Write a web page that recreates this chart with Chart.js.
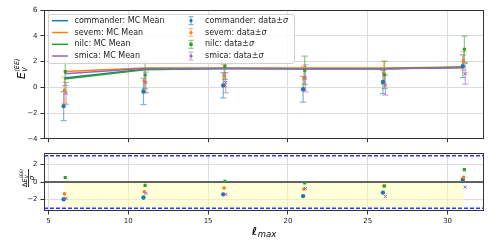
<!DOCTYPE html>
<html>
<head>
<meta charset="utf-8">
<script src="https://cdn.jsdelivr.net/npm/chart.js@4.4.1/dist/chart.umd.min.js"></script>
<style>
  html, body { margin: 0; padding: 0; background: #fff; }
  #wrap { position: relative; width: 491px; height: 245px; }
  #top  { position: absolute; left: 0; top: 0; }
  #bot  { position: absolute; left: 0; top: 146px; }
</style>
</head>
<body>
<div id="wrap">
  <canvas id="top" width="491" height="146"></canvas>
  <canvas id="bot" width="491" height="99"></canvas>
</div>
<script>
// ---- datos ----
const ELLS    = [6, 11, 16, 21, 26, 31];
const NAMES   = ["commander", "sevem", "nilc", "smica"];
const COLORS  = ["#1f77b4", "#ff7f0e", "#2ca02c", "#9467bd"];
const X_SHIFT = [-0.05, 0, 0.05, 0.1];

// MC Mean (líneas)
const mcCommander = [0.72, 1.40, 1.45, 1.44, 1.44, 1.55];
const mcSevem     = [1.22, 1.50, 1.50, 1.49, 1.49, 1.58];
const mcNilc      = [0.65, 1.36, 1.45, 1.44, 1.44, 1.55];
const mcSmica     = [1.05, 1.45, 1.45, 1.44, 1.44, 1.52];

// data ± sigma
const dataCommander = [-1.46, -0.32, 0.15, -0.15, 0.41, 1.64];
const errCommander  = [ 1.13,  1.02, 0.97,  1.00, 0.90, 0.88];
const dataSevem     = [-0.22,  0.48, 0.90,  0.70, 1.10, 2.05];
const errSevem      = [ 1.02,  0.92, 0.88,  0.92, 0.90, 0.72];
const dataNilc      = [ 1.23,  0.95, 1.62,  1.32, 0.97, 2.95];
const errNilc       = [ 1.10,  1.05, 1.00,  1.10, 1.07, 1.02];
const dataSmica     = [-0.47,  0.38, 0.36,  0.70, 0.17, 1.05];
const errSmica      = [ 0.85,  0.80, 0.78,  1.05, 0.78, 0.80];

// residuos normalizados (panel inferior)
const resCommander = [-1.95, -1.75, -1.40, -1.60, -1.20, 0.27];
const resSevem     = [-1.35, -1.10, -0.67, -0.80, -0.45, 0.56];
const resNilc      = [ 0.53, -0.37,  0.08, -0.10, -0.45, 1.43];
const resSmica     = [-1.85, -1.30, -1.40, -0.73, -1.64, -0.58];

// ejes
const X_TICKS     = [5, 10, 15, 20, 25, 30];
const Y_TICKS_TOP = [-4, -2, 0, 2, 4, 6];
const Y_TICKS_BOT = [-2, 0, 2];

const MC   = [mcCommander, mcSevem, mcNilc, mcSmica];
const DATA = [dataCommander, dataSevem, dataNilc, dataSmica];
const ERR  = [errCommander, errSevem, errNilc, errSmica];
const RES  = [resCommander, resSevem, resNilc, resSmica];
const MARKERS = ["circle", "circle", "rect", "crossRot"];
const MSIZE   = [2.2, 1.8, 2.2, 2.2];

const FONT = "'DejaVu Sans', sans-serif";
const GRID = "#dcdcdc";
const SPINE = "#333";

const fmt = v => (v < 0 ? "\u2212" + Math.abs(v) : String(v));

function xScaleCfg(showLabels) {
  return {
    type: "linear", min: 4.72, max: 32.28,
    afterBuildTicks: s => { s.ticks = X_TICKS.map(v => ({ value: v })); },
    grid: { color: GRID, tickColor: SPINE, tickLength: 3.5 },
    border: { display: false },
    ticks: { display: showLabels, padding: 2, color: "#222", font: { family: FONT, size: 7 }, callback: fmt },
    afterFit: s => { s.height = showLabels ? 34 : 6; }
  };
}
function yScaleCfg(min, max, ticks) {
  return {
    min, max,
    afterBuildTicks: s => { s.ticks = ticks.map(v => ({ value: v })); },
    grid: { color: GRID, tickColor: SPINE, tickLength: 3.5 },
    border: { display: false },
    ticks: { padding: 3, color: "#222", font: { family: FONT, size: 7 }, callback: fmt },
    afterFit: s => { s.width = 44; }
  };
}

// marco de los ejes
const framePlugin = {
  id: "frame",
  beforeDatasetsDraw(chart) {
    const { ctx, chartArea: a } = chart;
    ctx.save();
    ctx.strokeStyle = SPINE;
    ctx.lineWidth = 1;
    ctx.strokeRect(Math.round(a.left) + 0.5, Math.round(a.top) + 0.5,
                   Math.round(a.right - a.left) - 1, Math.round(a.bottom - a.top) - 1);
    ctx.restore();
  }
};

// barras de error
const errorBarPlugin = {
  id: "errorBars",
  beforeDatasetsDraw(chart) {
    const { ctx, scales: { x, y } } = chart;
    ctx.save();
    ctx.lineWidth = 1.2;
    ctx.globalAlpha = 0.55;
    chart.data.datasets.forEach(ds => {
      if (!ds.errors) return;
      ctx.strokeStyle = ds.borderColor;
      ds.data.forEach((p, j) => {
        const px = x.getPixelForValue(p.x);
        const y1 = y.getPixelForValue(p.y + ds.errors[j]);
        const y2 = y.getPixelForValue(p.y - ds.errors[j]);
        ctx.beginPath();
        ctx.moveTo(px, y1); ctx.lineTo(px, y2);
        ctx.moveTo(px - 3, y1); ctx.lineTo(px + 3, y1);
        ctx.moveTo(px - 3, y2); ctx.lineTo(px + 3, y2);
        ctx.stroke();
      });
    });
    ctx.restore();
  }
};

// leyenda en dos columnas
const legendPlugin = {
  id: "legendBox",
  afterDatasetsDraw(chart) {
    const ctx = chart.ctx;
    ctx.save();
    ctx.fillStyle = "rgba(255,255,255,0.85)";
    ctx.strokeStyle = "#d0d0d0";
    ctx.lineWidth = 1;
    ctx.beginPath();
    ctx.roundRect(48.5, 14.5, 246, 49, 2);
    ctx.fill(); ctx.stroke();

    const rows = [20.7, 32.5, 44.3, 56];
    ctx.font = `8px ${FONT}`;
    ctx.textBaseline = "middle";
    ctx.fillStyle = "#222";
    NAMES.forEach((n, i) => {
      const ry = rows[i];
      // línea MC Mean
      ctx.strokeStyle = COLORS[i];
      ctx.lineWidth = 1.5;
      ctx.beginPath(); ctx.moveTo(52, ry); ctx.lineTo(68, ry); ctx.stroke();
      ctx.fillStyle = "#222";
      ctx.font = `8px ${FONT}`;
      ctx.fillText(n + ": MC Mean", 74.5, ry);

      // barra de error
      ctx.save();
      ctx.globalAlpha = 0.55;
      ctx.lineWidth = 1.2;
      ctx.beginPath();
      ctx.moveTo(191, ry - 4); ctx.lineTo(191, ry + 4);
      ctx.moveTo(188.5, ry - 4); ctx.lineTo(193.5, ry - 4);
      ctx.moveTo(188.5, ry + 4); ctx.lineTo(193.5, ry + 4);
      ctx.stroke();
      ctx.restore();
      ctx.fillStyle = COLORS[i];
      ctx.beginPath();
      if (MARKERS[i] === "rect") ctx.rect(189.3, ry - 1.7, 3.4, 3.4);
      else ctx.arc(191, ry, 1.6, 0, Math.PI * 2);
      ctx.fill();

      ctx.fillStyle = "#222";
      ctx.font = `8px ${FONT}`;
      const t = n + ": data\u00b1";
      ctx.fillText(t, 205, ry);
      const w = ctx.measureText(t).width;
      ctx.font = `italic 8px ${FONT}`;
      ctx.fillText("\u03c3", 205 + w, ry);
    });
    ctx.restore();
  }
};

// título eje y superior: E_V^{(EE)}
const topTitlePlugin = {
  id: "topTitle",
  afterDraw(chart) {
    const ctx = chart.ctx;
    ctx.save();
    ctx.translate(24.5, 79);
    ctx.rotate(-Math.PI / 2);
    ctx.fillStyle = "#000";
    ctx.textAlign = "left";
    ctx.textBaseline = "alphabetic";
    ctx.font = `italic 11px ${FONT}`;
    ctx.fillText("E", 0, 0);
    const w = ctx.measureText("E").width;
    ctx.font = `italic 6.5px ${FONT}`;
    ctx.fillText("V", w + 0.3, 2.5);
    ctx.fillText("(EE)", w + 0.3, -5.5);
    ctx.restore();
  }
};

// panel inferior: banda, líneas de referencia y títulos
const bottomDecorPlugin = {
  id: "bottomDecor",
  beforeDatasetsDraw(chart) {
    const { ctx, chartArea: a, scales: { x, y } } = chart;
    ctx.save();
    ctx.fillStyle = "rgba(255,255,170,0.45)";
    const bx1 = x.getPixelForValue(ELLS[0]), bx2 = x.getPixelForValue(ELLS[ELLS.length - 1]);
    const by1 = y.getPixelForValue(0), by2 = y.getPixelForValue(-3);
    ctx.fillRect(bx1, by1, bx2 - bx1, by2 - by1);

    ctx.strokeStyle = "#3333ff";
    ctx.lineWidth = 1.5;
    ctx.setLineDash([4, 2]);
    [3, -3].forEach(v => {
      const py = y.getPixelForValue(v);
      ctx.beginPath(); ctx.moveTo(a.left, py); ctx.lineTo(a.right, py); ctx.stroke();
    });
    ctx.setLineDash([]);
    ctx.strokeStyle = "#333";
    ctx.lineWidth = 1.5;
    const p0 = y.getPixelForValue(0);
    ctx.beginPath(); ctx.moveTo(a.left, p0); ctx.lineTo(a.right, p0); ctx.stroke();
    ctx.restore();
  },
  afterDraw(chart) {
    const ctx = chart.ctx;
    ctx.save();
    ctx.fillStyle = "#000";
    ctx.textBaseline = "alphabetic";

    // eje x: ℓ_max
    ctx.textAlign = "left";
    ctx.font = `bold italic 11px ${FONT}`;
    ctx.fillText("\u2113", 252, 89);
    const wl = ctx.measureText("\u2113").width;
    ctx.font = `italic 8.5px ${FONT}`;
    ctx.fillText("max", 252 + wl + 0.5, 91);

    // eje y: ΔE_V^{(EE)} / σ
    ctx.translate(26.5, 32);
    ctx.rotate(-Math.PI / 2);
    ctx.font = `6.5px ${FONT}`;
    const wd = ctx.measureText("\u0394").width;
    ctx.font = `italic 6.5px ${FONT}`;
    const we = ctx.measureText("E").width;
    ctx.font = `italic 4.5px ${FONT}`;
    const ws = ctx.measureText("(EE)").width;
    const W = wd + we + ws + 0.3;
    let cx = -W / 2;
    ctx.font = `6.5px ${FONT}`;
    ctx.fillText("\u0394", cx, 0); cx += wd;
    ctx.font = `italic 6.5px ${FONT}`;
    ctx.fillText("E", cx, 0); cx += we + 0.3;
    ctx.font = `italic 4.5px ${FONT}`;
    ctx.fillText("V", cx, 1.8);
    ctx.fillText("(EE)", cx, -4);
    ctx.strokeStyle = "#000";
    ctx.lineWidth = 0.8;
    ctx.beginPath(); ctx.moveTo(-W / 2, 2); ctx.lineTo(W / 2, 2); ctx.stroke();
    ctx.textAlign = "center";
    ctx.font = `italic 7px ${FONT}`;
    ctx.fillText("\u03c3", 0, 7.5);
    ctx.restore();
  }
};

// ---- gráfico superior ----
const topDatasets = [];
NAMES.forEach((n, i) => {
  topDatasets.push({
    label: n + ": MC Mean",
    data: ELLS.map((l, j) => ({ x: l, y: MC[i][j] })),
    showLine: true,
    borderColor: COLORS[i],
    backgroundColor: COLORS[i],
    borderWidth: 1.5,
    pointRadius: 0,
    order: 20 - i
  });
});
NAMES.forEach((n, i) => {
  topDatasets.push({
    label: n + ": data\u00b1\u03c3",
    data: ELLS.map((l, j) => ({ x: l + X_SHIFT[i], y: DATA[i][j] })),
    errors: ERR[i],
    showLine: false,
    pointStyle: MARKERS[i],
    pointRadius: MSIZE[i],
    borderWidth: MARKERS[i] === "crossRot" ? 1 : 0,
    borderColor: COLORS[i],
    backgroundColor: COLORS[i],
    order: 10 - i
  });
});

new Chart(document.getElementById("top"), {
  type: "scatter",
  data: { datasets: topDatasets },
  options: {
    responsive: false,
    animation: false,
    layout: { padding: { left: 0, right: 7, top: 10, bottom: 0 } },
    plugins: { legend: { display: false }, tooltip: { enabled: false } },
    scales: {
      x: xScaleCfg(false),
      y: yScaleCfg(-4, 6, Y_TICKS_TOP)
    }
  },
  plugins: [framePlugin, errorBarPlugin, legendPlugin, topTitlePlugin]
});

// ---- gráfico inferior ----
const botDatasets = NAMES.map((n, i) => ({
  label: n,
  data: ELLS.map((l, j) => ({ x: l + X_SHIFT[i], y: RES[i][j] })),
  showLine: false,
  pointStyle: MARKERS[i],
  pointRadius: MSIZE[i],
  borderWidth: MARKERS[i] === "crossRot" ? 1 : 0,
  borderColor: COLORS[i],
  backgroundColor: COLORS[i],
  order: 10 - i
}));

new Chart(document.getElementById("bot"), {
  type: "scatter",
  data: { datasets: botDatasets },
  options: {
    responsive: false,
    animation: false,
    layout: { padding: { left: 0, right: 7, top: 7, bottom: 0 } },
    plugins: { legend: { display: false }, tooltip: { enabled: false } },
    scales: {
      x: xScaleCfg(true),
      y: yScaleCfg(-3.3, 3.3, Y_TICKS_BOT)
    }
  },
  plugins: [framePlugin, bottomDecorPlugin]
});
</script>
</body>
</html>
